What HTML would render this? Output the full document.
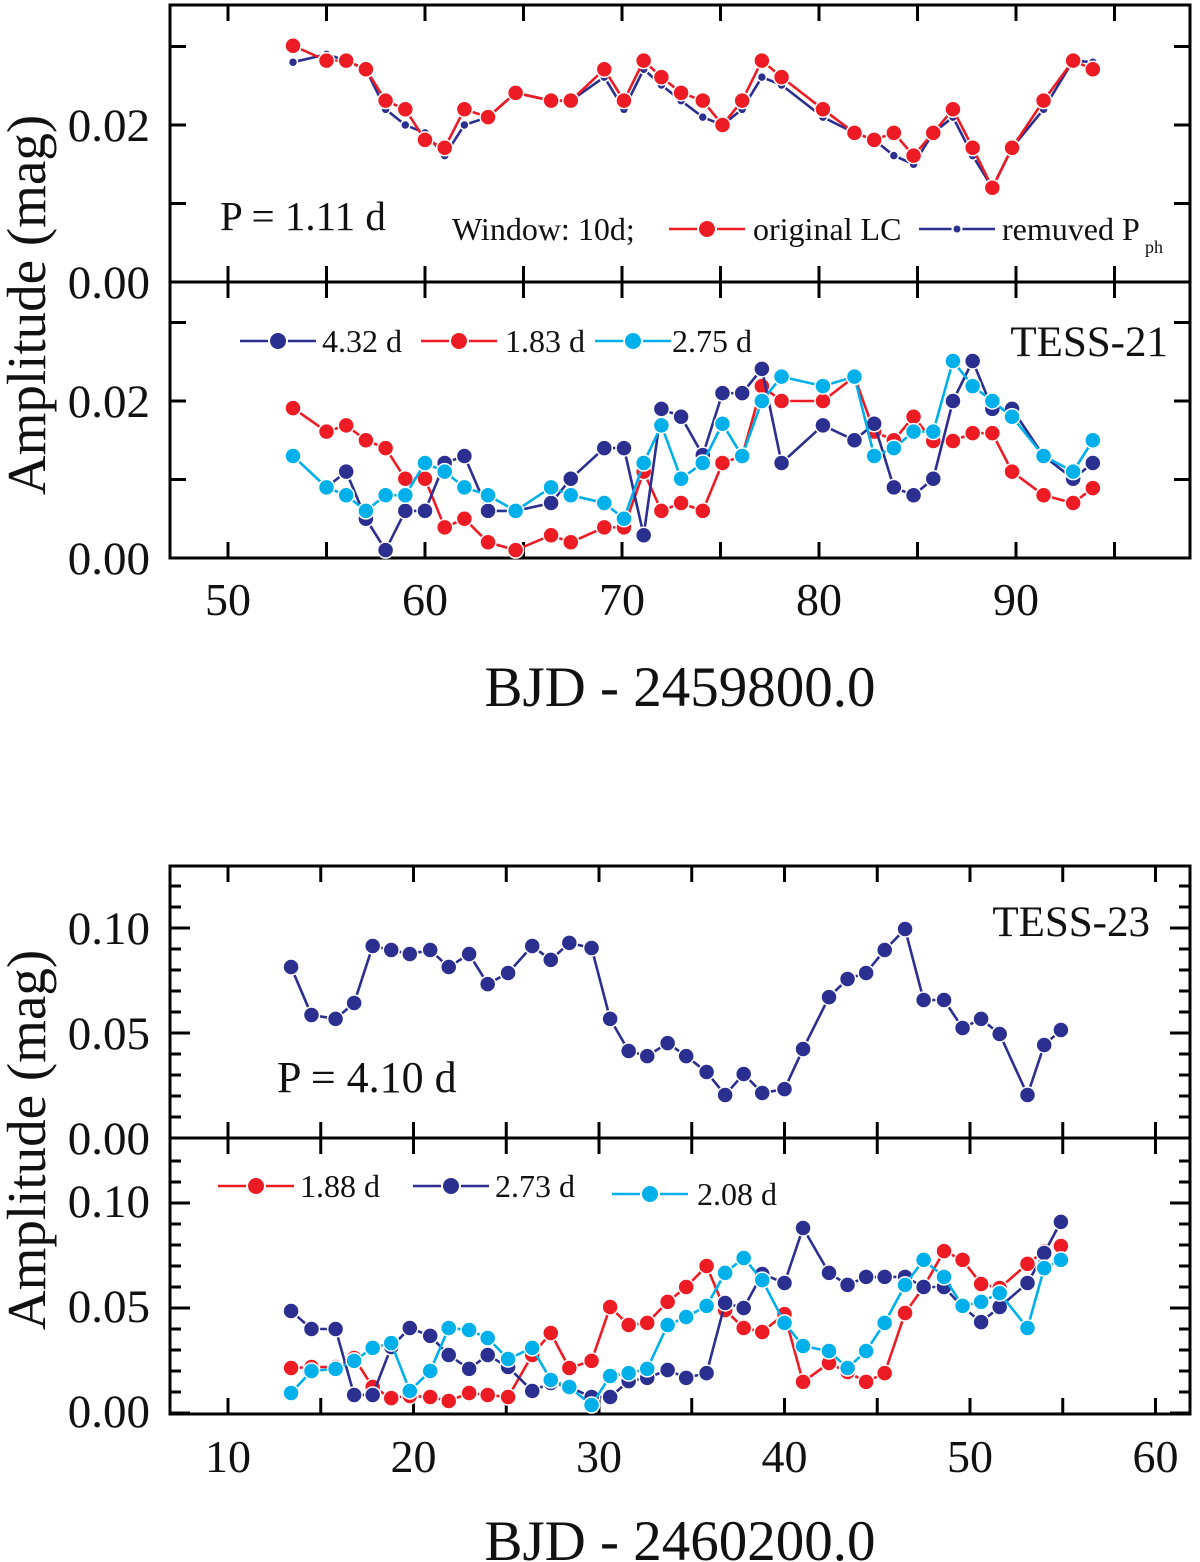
<!DOCTYPE html>
<html><head><meta charset="utf-8"><style>
html,body{margin:0;padding:0;background:#fff}
svg{display:block;font-family:"Liberation Serif","Times New Roman",serif}
</style></head><body>
<svg id="fig" width="1200" height="1562" viewBox="0 0 1200 1562" xmlns="http://www.w3.org/2000/svg"></svg>
<script>
// ---- data: TESS-21 ----
const t21X = [53.3,55.0,56.0,57.0,58.0,59.0,60.0,61.0,62.0,63.2,64.6,66.4,67.4,69.1,70.1,71.1,72.0,73.0,74.1,75.1,76.1,77.1,78.1,80.2,81.8,82.8,83.8,84.8,85.8,86.8,87.8,88.8,89.8,91.4,92.9,93.9];
const t21Orig = [.0301,.0282,.0282,.0271,.0231,.0220,.0181,.0171,.0220,.0210,.0241,.0231,.0231,.0271,.0231,.0282,.0261,.0241,.0231,.0200,.0231,.0282,.0261,.0220,.0190,.0181,.0190,.0161,.0190,.0220,.0171,.0120,.0171,.0231,.0282,.0271];
const t21Rem = [.0280,.0290,.0282,.0271,.0220,.0200,.0190,.0161,.0200,.0210,.0241,.0231,.0231,.0261,.0220,.0271,.0251,.0231,.0210,.0200,.0220,.0261,.0251,.0210,.0190,.0181,.0161,.0150,.0190,.0210,.0161,.0120,.0171,.0220,.0282,.0280];
const t21P183 = [.0191,.0161,.0169,.0150,.0140,.0101,.0101,.0039,.0050,.0020,.0010,.0029,.0020,.0039,.0039,.0110,.0060,.0070,.0060,.0121,.0130,.0219,.0200,.0200,.0231,.0161,.0150,.0180,.0149,.0149,.0159,.0159,.0110,.0080,.0070,.0089];
const t21P432 = [.0090,.0110,.0050,.0010,.0060,.0060,.0121,.0130,.0060,.0060,.0070,.0101,.0140,.0140,.0029,.0190,.0180,.0131,.0210,.0210,.0241,.0121,.0169,.0150,.0171,.0090,.0080,.0101,.0200,.0251,.0190,.0190,.0130,.0101,.0121];
const t21P275 = [.0130,.0090,.0080,.0060,.0080,.0080,.0121,.0110,.0090,.0080,.0060,.0090,.0080,.0070,.0050,.0121,.0169,.0101,.0121,.0171,.0130,.0200,.0231,.0219,.0231,.0130,.0140,.0161,.0161,.0251,.0219,.0200,.0180,.0130,.0110,.0150];
// ---- data: TESS-23 ----
const t23X = [13.4,14.5,15.8,16.8,17.8,18.8,19.8,20.9,21.9,23.0,24.0,25.1,26.4,27.4,28.4,29.6,30.6,31.6,32.6,33.7,34.7,35.8,36.8,37.8,38.8,40.0,41.0,42.4,43.4,44.4,45.4,46.5,47.5,48.6,49.6,50.6,51.6,53.1,54.0,54.9];
const t23Main = [.0814,.0586,.0567,.0643,.0914,.0895,.0876,.0895,.0814,.0876,.0733,.0786,.0914,.0848,.0929,.0905,.0567,.0414,.0390,.0452,.0390,.0314,.0205,.0305,.0214,.0233,.0424,.0671,.0757,.0786,.0895,.0995,.0657,.0657,.0524,.0567,.0495,.0205,.0443,.0514];
const t23P188 = [.0214,.0219,.0219,.0262,.0124,.0071,.0081,.0076,.0057,.0095,.0086,.0076,.0276,.0381,.0214,.0248,.0505,.0419,.0429,.0529,.0600,.0700,.0490,.0405,.0386,.0471,.0148,.0238,.0195,.0148,.0190,.0476,.0600,.0771,.0729,.0614,.0595,.0710,.0771,.0795];
const t23P273 = [.0486,.0400,.0400,.0086,.0086,.0314,.0405,.0367,.0276,.0210,.0276,.0219,.0105,.0143,.0124,.0076,.0076,.0152,.0167,.0205,.0167,.0190,.0524,.0500,.0662,.0619,.0881,.0667,.0610,.0648,.0648,.0648,.0600,.0600,.0505,.0433,.0505,.0619,.0762,.0910];
const t23P208 = [.0095,.0200,.0210,.0248,.0310,.0333,.0105,.0200,.0405,.0395,.0357,.0257,.0310,.0157,.0124,.0038,.0176,.0190,.0210,.0419,.0457,.0510,.0667,.0738,.0633,.0429,.0319,.0295,.0214,.0295,.0429,.0610,.0729,.0648,.0510,.0529,.0571,.0405,.0690,.0729];
const topXTicks = ["50","60","70","80","90"];
const topYTicks = ["0.00","0.02"];
const botXTicks = ["10","20","30","40","50","60"];
const botYTicks = ["0.00","0.05","0.10"];

const NS="http://www.w3.org/2000/svg";
const svg=document.getElementById('fig');
function mk(tag,attrs,parent){const e=document.createElementNS(NS,tag);for(const k in attrs)e.setAttribute(k,attrs[k]);(parent||svg).appendChild(e);return e;}
function txt(s,x,y,size,anchor,parent){const e=mk('text',{x:x,y:y,'font-size':size,'text-anchor':anchor||'start',fill:'#111'},parent);e.textContent=s;return e;}

const RED='#ed1c24',NAVY='#2b2f8f',CYAN='#00b0ea';
const xTop=v=>228+(v-50)*19.7;
const xBot=v=>228+(v-10)*18.55;
const yP1=v=>282-v*7850, yP2=v=>558-v*7850;
const yP3=v=>1138-v*2100, yP4=v=>1413-v*2100;

function series(xs,ys,xf,yf,color,r,name){
  const g=mk('g',{});
  
  
  const pts=ys.map((v,i)=>xf(xs[i])+','+yf(v)).join(' ');
  const l=mk('polyline',{points:pts,fill:'none',stroke:color,'stroke-width':2.6},g);
  
  
  ys.forEach((v,i)=>{
    const c=mk('circle',{cx:xf(xs[i]),cy:yf(v),r:r,fill:color,stroke:'#fff','stroke-width':1.5},g);
    
    
  });
}
function legend(x1,y,color,r,label,tx,ty,size,name){
  const g=mk('g',{});
  
  
  mk('line',{x1:x1,y1:y,x2:x1+76,y2:y,stroke:color,'stroke-width':2.6},g);
  mk('circle',{cx:x1+38,cy:y,r:r,fill:color,stroke:'#fff','stroke-width':2},g);
  txt(label,tx,ty,size,'start',g);
  return g;
}
function frame(x0,x1,y0,y1,name){
  const r=mk('rect',{x:x0,y:y0,width:x1-x0,height:y1-y0,fill:'none',stroke:'#000','stroke-width':3});
  
  
}
const tk=(x1,y1,x2,y2)=>mk('line',{x1,y1,x2,y2,stroke:'#000','stroke-width':3});

// ===== Top figure =====
frame(170,1190,5,282,'panel-top-1-frame');
frame(170,1190,282,558,'panel-top-2-frame');
for(let v=50;v<=95;v+=5){const x=xTop(v);
  tk(x,5,x,21);tk(x,282,x,266);tk(x,282,x,298);tk(x,558,x,542);}
for(let v=0;v<=0.0301;v+=0.01){
  tk(170,yP1(v),186,yP1(v));tk(1190,yP1(v),1174,yP1(v));
  tk(170,yP2(v),186,yP2(v));tk(1190,yP2(v),1174,yP2(v));}
topYTicks.forEach((s,i)=>{const v=i*0.02;
  txt(s,150,yP1(v)+16,47,'end');
  txt(s,150,yP2(v)+16,47,'end');});
topXTicks.forEach((s,i)=>{const e=txt(s,xTop(50+i*10),615,46,'middle');});
let e=txt('BJD - 2459800.0',680,706,57,'middle');
e=txt('Amplitude (mag)',0,0,55,'middle');e.setAttribute('transform','translate(45,305) rotate(-90)');

series(t21X,t21Rem,xTop,yP1,NAVY,4.5,'removed-pph-series');
series(t21X,t21Orig,xTop,yP1,RED,8,'original-lc-series');
txt('P = 1.11 d',220,230,41);
txt('Window: 10d;',452,240,32);
legend(669,229,RED,9,'original LC',753,240,32,'legend-original-lc');
const lg=legend(919,229,NAVY,4.5,'remuved P',1002,240,32,'legend-removed-pph');
txt('ph',1145,253,18,'start',lg);

series(t21X,t21P183,xTop,yP2,RED,8,'series-1.83d');
series(t21X.slice(1),t21P432,xTop,yP2,NAVY,8,'series-4.32d');
series(t21X,t21P275,xTop,yP2,CYAN,8,'series-2.75d');
legend(240,341,NAVY,9,'4.32 d',322,352,32,'legend-4.32d');
legend(421,341,RED,9,'1.83 d',505,352,32,'legend-1.83d');
legend(595,341,CYAN,9,'2.75 d',672,352,32,'legend-2.75d');
txt('TESS-21',1168,356,43,'end');

// ===== Bottom figure =====
frame(170,1190,866,1138,'panel-bottom-1-frame');
frame(170,1190,1138,1414,'panel-bottom-2-frame');
for(let v=10;v<=60;v+=5){const x=xBot(v);
  tk(x,866,x,882);tk(x,1138,x,1122);tk(x,1138,x,1154);tk(x,1414,x,1398);}
for(let i=0;i<=12;i++){const v=i*0.01;const L=(i%5===0)?20:11;
  if(yP3(v)>866){tk(170,yP3(v),170+L,yP3(v));tk(1190,yP3(v),1190-L,yP3(v));}
  if(yP4(v)>1140){tk(170,yP4(v),170+L,yP4(v));tk(1190,yP4(v),1190-L,yP4(v));}}
botYTicks.forEach((s,i)=>{const v=i*0.05;
  txt(s,150,yP3(v)+16,47,'end');
  txt(s,150,yP4(v)+14,47,'end');});
botXTicks.forEach((s,i)=>{const e=txt(s,xBot(10+i*10),1472,46,'middle');});
e=txt('BJD - 2460200.0',680,1560,57,'middle');
e=txt('Amplitude (mag)',0,0,55,'middle');e.setAttribute('transform','translate(45,1140) rotate(-90)');

series(t23X,t23Main,xBot,yP3,NAVY,8,'series-4.10d');
txt('TESS-23',1150,936,43,'end');
txt('P = 4.10 d',277,1092,44);

series(t23X,t23P188,xBot,yP4,RED,8,'series-1.88d');
series(t23X,t23P273,xBot,yP4,NAVY,8,'series-2.73d');
series(t23X,t23P208,xBot,yP4,CYAN,8,'series-2.08d');
legend(218,1186,RED,9,'1.88 d',300,1197,32,'legend-1.88d');
legend(413,1186,NAVY,9,'2.73 d',495,1197,32,'legend-2.73d');
legend(612,1194,CYAN,9,'2.08 d',697,1205,32,'legend-2.08d');
</script>
</body></html>
